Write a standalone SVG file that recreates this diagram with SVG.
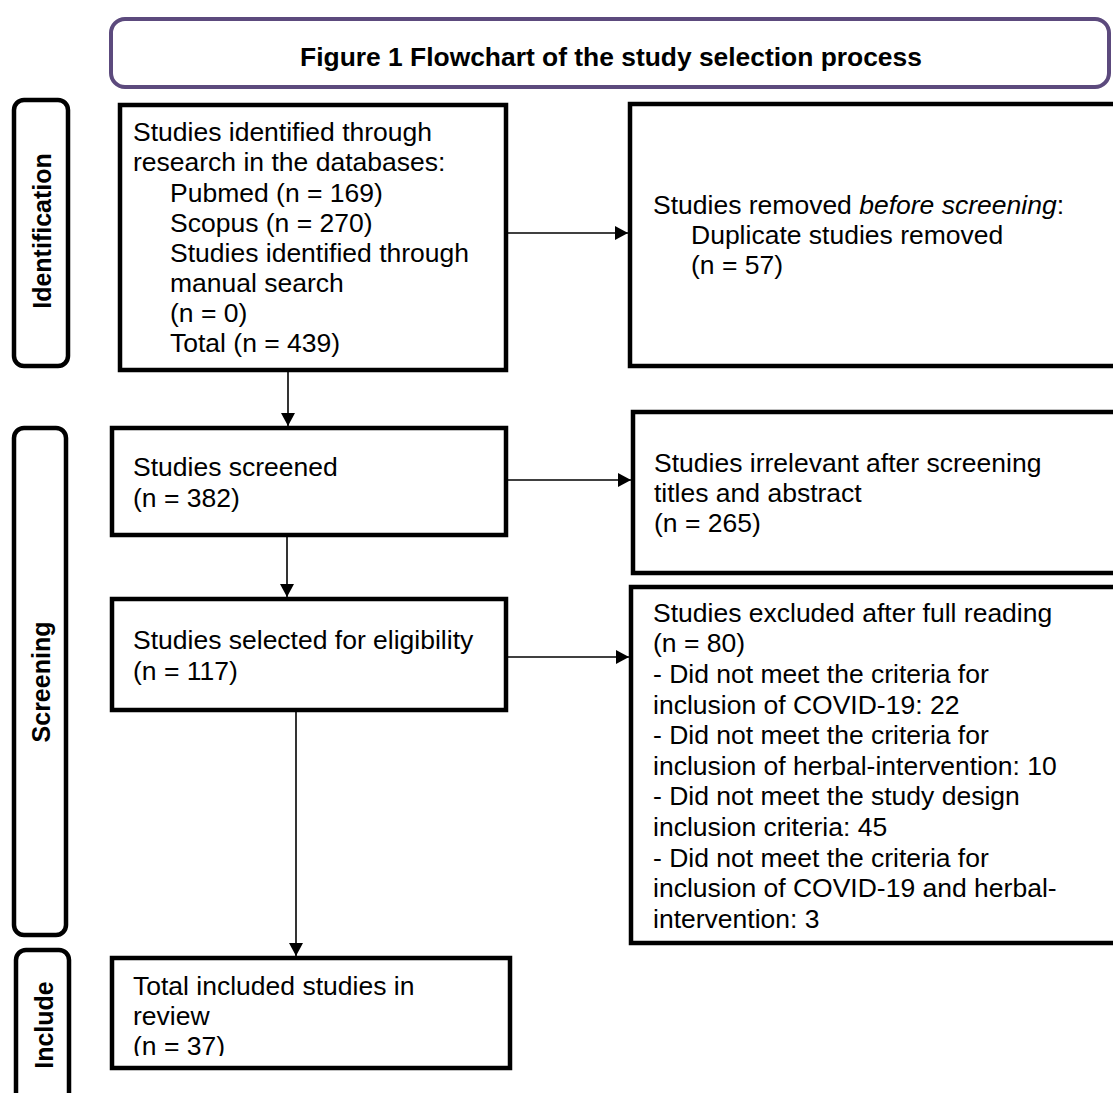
<svg xmlns="http://www.w3.org/2000/svg" width="1113" height="1093" viewBox="0 0 1113 1093">
<style>
text{font-family:"Liberation Sans",Arial,sans-serif;fill:#000}
.t{font-size:26.5px}
.lab{font-size:25px;font-weight:bold}
.box{fill:#fff;stroke:#000;stroke-width:4.5}
.side{fill:#fff;stroke:#000;stroke-width:4.5}
.con{fill:none;stroke:#000;stroke-width:1.6}
</style>
<defs>
<marker id="ah" markerUnits="userSpaceOnUse" markerWidth="14" markerHeight="14" refX="13" refY="7" orient="auto">
<path d="M0,0 L13,7 L0,14 z" fill="#000"/>
</marker>
<clipPath id="clip7"><rect x="0" y="0" width="1113" height="1056"/></clipPath>
</defs>
<rect width="1113" height="1093" fill="#fff"/>

<g id="title">
<rect x="111" y="19" width="998" height="68" rx="14" fill="#fff" stroke="#5c4a7d" stroke-width="4"/>
<text x="611" y="66" text-anchor="middle" style="font-size:26.4px;font-weight:bold">Figure 1 Flowchart of the study selection process</text>
</g>

<g id="label-identification">
<rect class="side" x="14" y="100" width="54" height="266" rx="10"/>
<text class="lab" transform="translate(51,231) rotate(-90)" text-anchor="middle">Identification</text>
</g>
<g id="label-screening">
<rect class="side" x="14" y="428" width="52" height="507" rx="10"/>
<text class="lab" transform="translate(50,682) rotate(-90)" text-anchor="middle">Screening</text>
</g>
<g id="label-include">
<rect class="side" x="16" y="950" width="53" height="200" rx="10"/>
<text class="lab" transform="translate(53,1025) rotate(-90)" text-anchor="middle">Include</text>
</g>

<g id="identified">
<rect class="box" x="120" y="105" width="386" height="265"/>
<text class="t" x="133" y="141">Studies identified through</text>
<text class="t" x="133" y="171">research in the databases:</text>
<text class="t" x="170" y="201.5">Pubmed (n = 169)</text>
<text class="t" x="170" y="231.5">Scopus (n = 270)</text>
<text class="t" x="170" y="261.5">Studies identified through</text>
<text class="t" x="170" y="292">manual search</text>
<text class="t" x="170" y="322">(n = 0)</text>
<text class="t" x="170" y="352">Total (n = 439)</text>
</g>

<g id="removed">
<rect class="box" x="630" y="104" width="500" height="262"/>
<text class="t" x="653" y="214">Studies removed <tspan font-style="italic">before screening</tspan>:</text>
<text class="t" x="691" y="244">Duplicate studies removed</text>
<text class="t" x="691" y="274">(n = 57)</text>
</g>

<g id="screened">
<rect class="box" x="112" y="428" width="394" height="107"/>
<text class="t" x="133" y="476">Studies screened</text>
<text class="t" x="133" y="506.5">(n = 382)</text>
</g>

<g id="irrelevant">
<rect class="box" x="633" y="412" width="500" height="161"/>
<text class="t" x="654" y="471.5">Studies irrelevant after screening</text>
<text class="t" x="654" y="501.5">titles and abstract</text>
<text class="t" x="654" y="531.5">(n = 265)</text>
</g>

<g id="eligibility">
<rect class="box" x="112" y="599" width="394" height="111"/>
<text class="t" x="133" y="649">Studies selected for eligibility</text>
<text class="t" x="133" y="680">(n = 117)</text>
</g>

<g id="excluded">
<rect class="box" x="631" y="587" width="500" height="356"/>
<text class="t" x="653" y="621.5">Studies excluded after full reading</text>
<text class="t" x="653" y="652.2">(n = 80)</text>
<text class="t" x="653" y="682.8">- Did not meet the criteria for</text>
<text class="t" x="653" y="713.5">inclusion of COVID-19: 22</text>
<text class="t" x="653" y="744.1">- Did not meet the criteria for</text>
<text class="t" x="653" y="774.8">inclusion of herbal-intervention: 10</text>
<text class="t" x="653" y="805.4">- Did not meet the study design</text>
<text class="t" x="653" y="836.1">inclusion criteria: 45</text>
<text class="t" x="653" y="866.7">- Did not meet the criteria for</text>
<text class="t" x="653" y="897.4">inclusion of COVID-19 and herbal-</text>
<text class="t" x="653" y="928">intervention: 3</text>
</g>

<g id="included">
<rect class="box" x="112" y="958" width="398" height="110"/>
<g clip-path="url(#clip7)">
<text class="t" x="133" y="995">Total included studies in</text>
<text class="t" x="133" y="1025">review</text>
<text class="t" x="133" y="1055">(n = 37)</text>
</g>
</g>

<g id="connectors">
<line class="con" x1="508" y1="233" x2="628" y2="233" marker-end="url(#ah)"/>
<line class="con" x1="288" y1="372" x2="288" y2="426" marker-end="url(#ah)"/>
<line class="con" x1="508" y1="480" x2="631" y2="480" marker-end="url(#ah)"/>
<line class="con" x1="287" y1="537" x2="287" y2="597" marker-end="url(#ah)"/>
<line class="con" x1="508" y1="657" x2="629" y2="657" marker-end="url(#ah)"/>
<line class="con" x1="296" y1="712" x2="296" y2="956" marker-end="url(#ah)"/>
</g>
</svg>
